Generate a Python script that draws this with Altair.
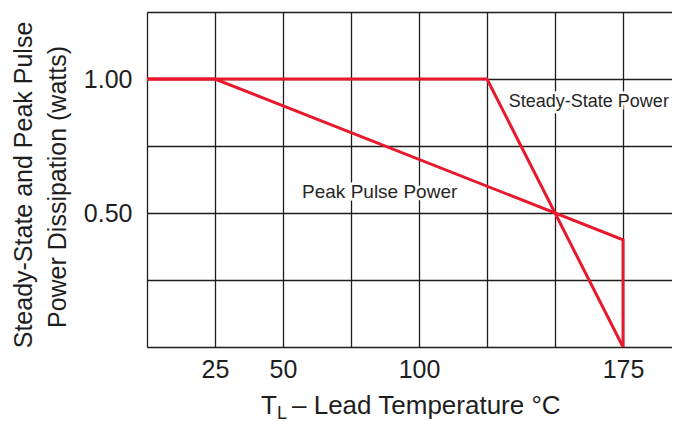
import altair as alt
import pandas as pd

# Data
steady_x = [0, 125, 175]
steady_y = [1.0, 1.0, 0.0]
pulse_x = [0, 25, 175, 175]
pulse_y = [1.0, 1.0, 0.4, 0.0]

x_grid = [0, 25, 50, 75, 100, 125, 150, 175]
x_labels = [25, 50, 100, 175]
y_grid = [0, 0.25, 0.5, 0.75, 1.0, 1.25]
y_labels = [0.5, 1.0]

ann_text = ["Steady-State Power", "Peak Pulse Power"]
ann_x = [133, 57]
ann_y = [0.915, 0.577]
ann_size = [18, 19]

rows = []
for i, (x, y) in enumerate(zip(steady_x, steady_y)):
    rows.append({"series": "Steady-State Power", "idx": i, "t": x, "p": y})
for i, (x, y) in enumerate(zip(pulse_x, pulse_y)):
    rows.append({"series": "Peak Pulse Power", "idx": i, "t": x, "p": y})
df = pd.DataFrame(rows)
ann = pd.DataFrame({"text": ann_text, "t": ann_x, "p": ann_y, "size": ann_size})

FONT = "Liberation Sans"
INK = "#1e1e1e"
RED = "#E8192C"

xlab_expr = " || ".join(f"datum.value == {v}" for v in x_labels)
ylab_expr = " || ".join(f"datum.value == {v}" for v in y_labels)

x_enc = alt.X(
    "t:Q",
    scale=alt.Scale(domain=[0, 193], nice=False, zero=False),
    axis=alt.Axis(
        values=x_grid,
        title="",
        grid=True,
        gridColor=INK,
        gridWidth=1.3,
        gridOpacity=1,
        domain=False,
        ticks=False,
        labelExpr=f"({xlab_expr}) ? datum.label : ''",
        labelFont=FONT,
        labelFontSize=25,
        labelColor=INK,
        labelPadding=10,
        labelOverlap=False,
        labelFlush=False,
    ),
)
y_enc = alt.Y(
    "p:Q",
    scale=alt.Scale(domain=[0, 1.25], nice=False, zero=False),
    axis=alt.Axis(
        values=y_grid,
        title="",
        grid=True,
        gridColor=INK,
        gridWidth=1.3,
        gridOpacity=1,
        domain=False,
        ticks=False,
        labelExpr=f"({ylab_expr}) ? format(datum.value, '.2f') : ''",
        labelFont=FONT,
        labelFontSize=25,
        labelColor=INK,
        labelPadding=15,
        labelOverlap=False,
        labelFlush=False,
    ),
)

lines = alt.Chart(df).mark_line(color=RED, strokeWidth=3, strokeJoin="miter", clip=False).encode(
    x=x_enc,
    y=y_enc,
    detail="series:N",
    order="idx:Q",
)

halo = alt.Chart(ann).mark_text(
    align="left", baseline="middle", font=FONT,
    stroke="white", strokeWidth=5, fill="white"
).encode(x="t:Q", y="p:Q", text="text:N", size=alt.Size("size:Q", scale=None, legend=None))

labels = alt.Chart(ann).mark_text(
    align="left", baseline="middle", font=FONT, color="#262626"
).encode(x="t:Q", y="p:Q", text="text:N", size=alt.Size("size:Q", scale=None, legend=None))

# Axis titles drawn as text (subscript L and two-line rotated title)
t_main = alt.Chart(pd.DataFrame({"s": ["T"]})).mark_text(
    align="left", baseline="alphabetic", font=FONT, fontSize=26, color=INK
).encode(x=alt.value(114), y=alt.value(402), text="s:N")
t_sub = alt.Chart(pd.DataFrame({"s": ["L"]})).mark_text(
    align="left", baseline="alphabetic", font=FONT, fontSize=18, color=INK
).encode(x=alt.value(130), y=alt.value(407), text="s:N")
t_rest = alt.Chart(pd.DataFrame({"s": ["\u2013 Lead Temperature \u00b0C"]})).mark_text(
    align="left", baseline="alphabetic", font=FONT, fontSize=26, color=INK
).encode(x=alt.value(145), y=alt.value(402), text="s:N")

y_t1 = alt.Chart(pd.DataFrame({"s": ["Steady-State and Peak Pulse"]})).mark_text(
    align="center", baseline="alphabetic", font=FONT, fontSize=25, color=INK, angle=270
).encode(x=alt.value(-115), y=alt.value(173), text="s:N")
y_t2 = alt.Chart(pd.DataFrame({"s": ["Power Dissipation (watts)"]})).mark_text(
    align="center", baseline="alphabetic", font=FONT, fontSize=25, color=INK, angle=270
).encode(x=alt.value(-81), y=alt.value(175), text="s:N")

chart = alt.layer(lines, halo, labels, t_main, t_sub, t_rest, y_t1, y_t2).properties(
    width=525,
    height=335,
    autosize=alt.AutoSizeParams(type="none"),
    padding={"left": 139, "top": 4, "right": 0, "bottom": 75},
).configure_view(stroke=None).configure(background="white")

chart.save("out.html", embed_options={"renderer": "svg", "actions": False})
